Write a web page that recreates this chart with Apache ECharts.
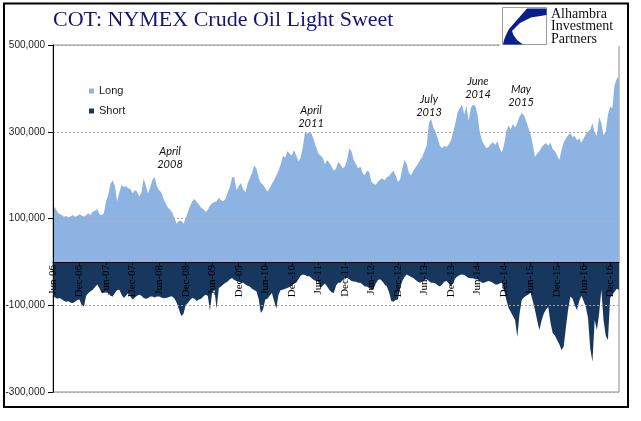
<!DOCTYPE html>
<html>
<head>
<meta charset="utf-8">
<script src="https://cdn.jsdelivr.net/npm/echarts@6/dist/echarts.min.js"></script>
<style>html,body{margin:0;padding:0;background:#fff;}#c{width:641px;height:421px;}</style>
</head>
<body>
<div id="c"></div>
<script>
// Semimonthly observations, Jun-2006 .. Feb-2017 (values in thousands of contracts)
const startYear = 2006, startMonth = 6, pointCount = 257;
const monthNames = ['Jan','Feb','Mar','Apr','May','Jun','Jul','Aug','Sep','Oct','Nov','Dec'];
const tickLabels = ['Jun-06','Dec-06','Jun-07','Dec-07','Jun-08','Dec-08','Jun-09','Dec-09','Jun-10','Dec-10','Jun-11','Dec-11','Jun-12','Dec-12','Jun-13','Dec-13','Jun-14','Dec-14','Jun-15','Dec-15','Jun-16','Dec-16'];

const longK = [
128,125,115,110,108,104,106,103,105,108,104,106,110,107,104,108,112,108,116,118,122,110,108,112,
140,155,180,188,175,140,160,178,172,175,170,168,158,165,162,150,160,192,175,158,172,190,195,175,
165,160,145,135,125,120,113,100,88,95,95,88,100,115,128,140,145,138,132,125,122,115,120,130,
135,138,140,148,142,140,145,160,172,195,195,165,175,182,168,160,180,192,205,222,215,195,182,178,
170,162,170,180,188,200,210,225,245,240,255,250,245,258,245,232,240,265,300,295,300,295,280,265,
250,245,240,225,235,228,220,210,215,230,225,215,220,235,262,255,235,225,215,220,205,200,210,208,
185,180,178,185,190,192,188,195,198,205,210,200,185,190,215,235,225,205,200,210,218,225,235,242,
255,268,320,330,310,300,285,268,262,268,265,272,280,300,320,345,355,362,340,360,325,355,362,360,
340,300,280,270,262,265,272,276,270,278,262,252,270,300,315,305,318,310,320,335,343,338,325,310,
295,270,242,250,255,265,270,274,268,275,260,255,245,235,258,275,285,292,297,288,290,280,285,274,
285,295,300,305,320,298,290,334,320,292,300,340,357,355,408,422,428
];
const shortK = [
-80,-82,-85,-83,-86,-90,-92,-91,-94,-95,-92,-88,-87,-100,-103,-78,-72,-68,-64,-58,-52,-60,-72,-70,
-68,-72,-78,-80,-72,-65,-64,-75,-83,-78,-72,-80,-87,-82,-78,-76,-78,-83,-85,-83,-80,-80,-82,-80,
-80,-82,-84,-83,-82,-80,-80,-85,-95,-110,-125,-120,-100,-95,-88,-83,-85,-90,-87,-85,-80,-76,-78,-112,
-70,-64,-108,-60,-57,-52,-48,-45,-40,-37,-42,-44,-46,-48,-48,-52,-55,-57,-62,-65,-68,-85,-118,-110,
-87,-85,-78,-72,-90,-108,-75,-65,-64,-62,-60,-58,-55,-50,-48,-40,-32,-29,-30,-33,-33,-38,-42,-44,
-46,-60,-55,-50,-57,-65,-70,-72,-55,-48,-48,-42,-38,-37,-40,-44,-45,-46,-48,-48,-52,-57,-57,-60,
-64,-62,-50,-42,-40,-45,-52,-57,-70,-90,-92,-88,-87,-60,-44,-35,-29,-32,-35,-37,-42,-46,-48,-45,
-42,-40,-44,-48,-48,-50,-54,-57,-52,-46,-44,-50,-57,-48,-38,-33,-30,-29,-30,-34,-37,-38,-38,-40,
-40,-44,-48,-48,-46,-44,-46,-48,-52,-52,-50,-48,-64,-87,-105,-115,-125,-134,-173,-120,-88,-82,-78,-75,
-71,-90,-111,-135,-157,-135,-119,-110,-104,-140,-164,-170,-180,-190,-203,-195,-150,-110,-80,-85,-100,-111,-90,-78,
-90,-104,-130,-200,-230,-134,-157,-120,-64,-134,-170,-180,-83,-75,-69,-62,-64
];

const categories = [];
for (let i = 0; i < pointCount; i++) {
  const m = startMonth - 1 + Math.floor(i / 2);
  const y = startYear + Math.floor(m / 12);
  const mm = (m % 12) + 1;
  categories.push(y + '-' + String(mm).padStart(2, '0') + '-' + (i % 2 ? '16' : '01'));
}
function catLabel(v) {
  const p = String(v).split('-');
  return monthNames[+p[1] - 1] + '-' + p[0].slice(2);
}
function isTick(idx, v) {
  return String(v).endsWith('-01') && tickLabels.indexOf(catLabel(v)) >= 0;
}

const annoFont = 'italic 11px Lato';
function anno(x, y, t) {
  return {type: 'text', x: x, y: y, z: 40, style: {text: t, font: annoFont, fill: '#111', align: 'center', verticalAlign: 'middle', lineHeight: 12.5}};
}

// plot box
const gTop = 45, gBottom = 29, gHeight = 421 - gTop - gBottom;
const yMin = -300, yMax = 500;
const zeroOffset = -gHeight * (0 - yMin) / (yMax - yMin);

const chart = echarts.init(document.getElementById('c'), null, {renderer: 'canvas'});
chart.setOption({
  animation: false,
  backgroundColor: '#fff',
  title: {
    text: 'COT: NYMEX Crude Oil Light Sweet',
    left: 53, top: 9, padding: 0,
    textStyle: {fontFamily: 'Liberation Serif', fontSize: 22, fontWeight: 'normal', color: '#14147a'}
  },
  legend: {
    orient: 'vertical', left: 84, top: 79,
    icon: 'rect', itemWidth: 5, itemHeight: 5, itemGap: 6,
    textStyle: {fontFamily: 'Liberation Sans', fontSize: 11, color: '#1a1a1a', lineHeight: 14},
    data: ['Long', 'Short']
  },
  grid: {left: 53, right: 22, top: gTop, bottom: gBottom, show: true, borderColor: '#8a8a8a', borderWidth: 1,
    containLabel: false, outerBoundsMode: 'none'},
  xAxis: {
    type: 'category', data: categories, boundaryGap: false, position: 'bottom', offset: zeroOffset, z: 10,
    axisLine: {show: true, onZero: false, lineStyle: {color: '#000', width: 1}},
    axisTick: {show: true, interval: isTick, length: 3, lineStyle: {color: '#000'}},
    axisLabel: {interval: isTick, rotate: 90, margin: 3, formatter: catLabel, hideOverlap: false,
      fontFamily: 'Liberation Serif', fontSize: 11, color: '#000'},
    splitLine: {show: false}
  },
  yAxis: {
    type: 'value', min: yMin, max: yMax, interval: 200, z: 10,
    axisLine: {show: true, lineStyle: {color: '#000'}},
    axisTick: {show: true, length: 5, lineStyle: {color: '#000'}},
    axisLabel: {margin: 8, fontFamily: 'Liberation Sans', fontSize: 10, color: '#222',
      formatter: v => (v * 1000).toLocaleString('en-US')},
    splitLine: {show: true, lineStyle: {color: '#a6a6a6', type: [2, 2], width: 1}}
  },
  series: [
    {name: 'Long', type: 'line', data: longK, showSymbol: false, symbol: 'none', z: 2,
      lineStyle: {width: 0}, itemStyle: {color: '#8db3e2'}, areaStyle: {color: '#8db3e2', opacity: 1}},
    {name: 'Short', type: 'line', data: shortK, showSymbol: false, symbol: 'none', z: 2,
      lineStyle: {width: 0}, itemStyle: {color: '#17375e'}, areaStyle: {color: '#17375e', opacity: 1}}
  ],
  graphic: [
    {type: 'rect', shape: {x: 500, y: 5, width: 127, height: 41}, style: {fill: '#fff'}, z: 50},
    {type: 'rect', shape: {x: 502.5, y: 7.5, width: 44, height: 37}, style: {fill: '#fff', stroke: '#a0a0a0', lineWidth: 1}, z: 51},
    {type: 'polygon', z: 52, style: {fill: '#0a1e8c'},
      shape: {points: [[546.5,8.5],[527,8.5],[509,29],[506,35],[504,40],[503,44.5],[523,44.5],[517,40],[513.5,35],[512,31],[520,23],[531,17.5],[546.5,15]]}},
    {type: 'text', x: 551, y: 8, z: 52, style: {text: 'Alhambra\nInvestment\nPartners', font: '14px "Liberation Serif"', lineHeight: 12.5, fill: '#111'}},
    {type: 'rect', z: 60, shape: {x: 4, y: 3.5, width: 624, height: 403.5}, style: {fill: 'none', stroke: '#000', lineWidth: 2}},
    anno(170, 158, 'April\n2008'),
    anno(311, 117, 'April\n2011'),
    anno(429, 106, 'July\n2013'),
    anno(478, 88, 'June\n2014'),
    anno(521, 96, 'May\n2015')
  ]
});
</script>
</body>
</html>
